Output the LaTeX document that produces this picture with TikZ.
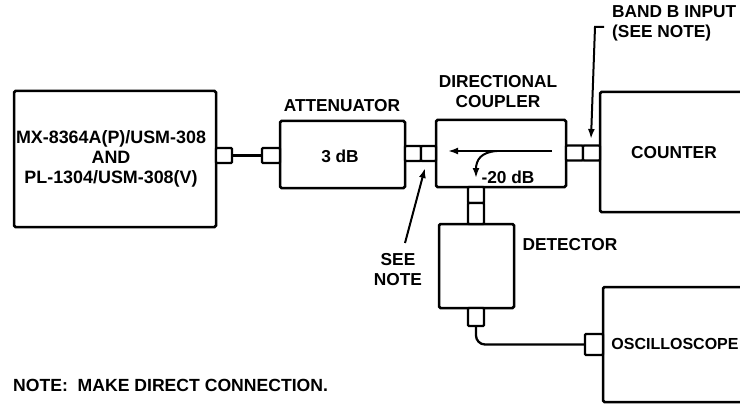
\documentclass[tikz,border=0pt]{standalone}
\usepackage{fontspec}
\setmainfont{Liberation Sans}
\usetikzlibrary{arrows.meta}
\tikzset{
  box/.style={draw, line width=2.5pt, rounded corners=1.5pt, inner sep=0pt, fill=white},
  conn/.style={draw, line width=2.3pt, rounded corners=1pt, inner sep=0pt, fill=white},
  lbl/.style={inner sep=0pt, font=\bfseries\fontsize{17.3}{20}\selectfont, align=center},
  wire/.style={line width=2.3pt},
  lead/.style={line width=2pt, -{Latex[length=10pt,width=7pt]}},
}
\begin{document}
\begin{tikzpicture}[x=1pt,y=-1pt]
\useasboundingbox (0,0) rectangle (740,404);
\clip (0,0) rectangle (740,404);
% main boxes
\node[box, minimum width=202, minimum height=136] (src) at (115,159) {};
\node[box, minimum width=125, minimum height=67] (att) at (342.5,154.5) {};
\node[box, minimum width=130, minimum height=67] (cpl) at (501,153.5) {};
\node[box, minimum width=180, minimum height=120] (cnt) at (690,152) {};
\node[box, minimum width=75, minimum height=84] (det) at (476.5,266) {};
\node[box, minimum width=177, minimum height=115] (osc) at (691.5,344.5) {};
% texts
\node[lbl, font=\bfseries\fontsize{17.9}{21}\selectfont] (srct) at (111,159) {MX-8364A(P)/USM-308\\[-1pt]AND\\[-1pt]PL-1304/USM-308(V)};
\node[lbl] (attl) at (342,106) {ATTENUATOR};
\node[lbl] (attt) at (340,156) {3 dB};
\node[lbl] (cpll) at (498,92) {DIRECTIONAL\\[0pt]COUPLER};
\node[lbl] (cplt) at (508,177) {-20 dB};
\node[lbl] (cntt) at (674,153) {COUNTER};
\node[lbl] (dett) at (570,245) {DETECTOR};
\node[lbl, font=\bfseries\fontsize{16}{20}\selectfont] (osct) at (675,344) {OSCILLOSCOPE};
\node[lbl] (seen) at (398,270) {SEE\\[0pt]NOTE};
\node[lbl, align=left, anchor=west] (band) at (612,23) {BAND B INPUT\\[0pt](SEE NOTE)};
\node[lbl, anchor=west, font=\bfseries\fontsize{17.6}{20}\selectfont] (note) at (13,385) {NOTE:\ \ MAKE DIRECT CONNECTION.};
% connectors
\node[conn, minimum width=16, minimum height=15] (c1) at (224,155.5) {};
\node[conn, minimum width=18, minimum height=15] (c2) at (271,155.5) {};
\node[conn, minimum width=16, minimum height=15] (c3) at (413,153.5) {};
\node[conn, minimum width=15, minimum height=15] (c4) at (428.5,153.5) {};
\node[conn, minimum width=17, minimum height=15] (c5) at (574.5,153) {};
\node[conn, minimum width=17, minimum height=15] (c6) at (591.5,153) {};
\node[conn, minimum width=16, minimum height=16] (c7) at (476,195) {};
\node[conn, minimum width=16, minimum height=21] (c8) at (476,213.5) {};
\node[conn, minimum width=16, minimum height=18] (c9) at (476,317) {};
\node[conn, minimum width=18, minimum height=21] (c10) at (594,344.5) {};
% wires
\draw[wire] (c1.east) -- (c2.west);
\draw[wire, rounded corners=9pt] (c9.south) |- (c10.west);
% coupler internal arrows
\coordinate (ca) at (552,151);
\coordinate (cb) at (448,151);
\coordinate (cc) at (497,151);
\coordinate (cd) at (476,178);
\draw[line width=2pt, -{Latex[length=10pt,width=7pt]}] (ca) -- (cb);
\draw[line width=2pt, -{Latex[length=10pt,width=7pt]}] (cc) .. controls (481,152) and (476,160) .. (cd);
% leaders
\coordinate (sa) at (405,243);
\coordinate (sb) at (425,168);
\draw[lead] (sa) -- (sb);
\coordinate (ba) at (604,27);
\coordinate (bb) at (595,27);
\coordinate (bc) at (591,139);
\draw[lead] (ba) -- (bb) -- (bc);
\end{tikzpicture}
\end{document}
